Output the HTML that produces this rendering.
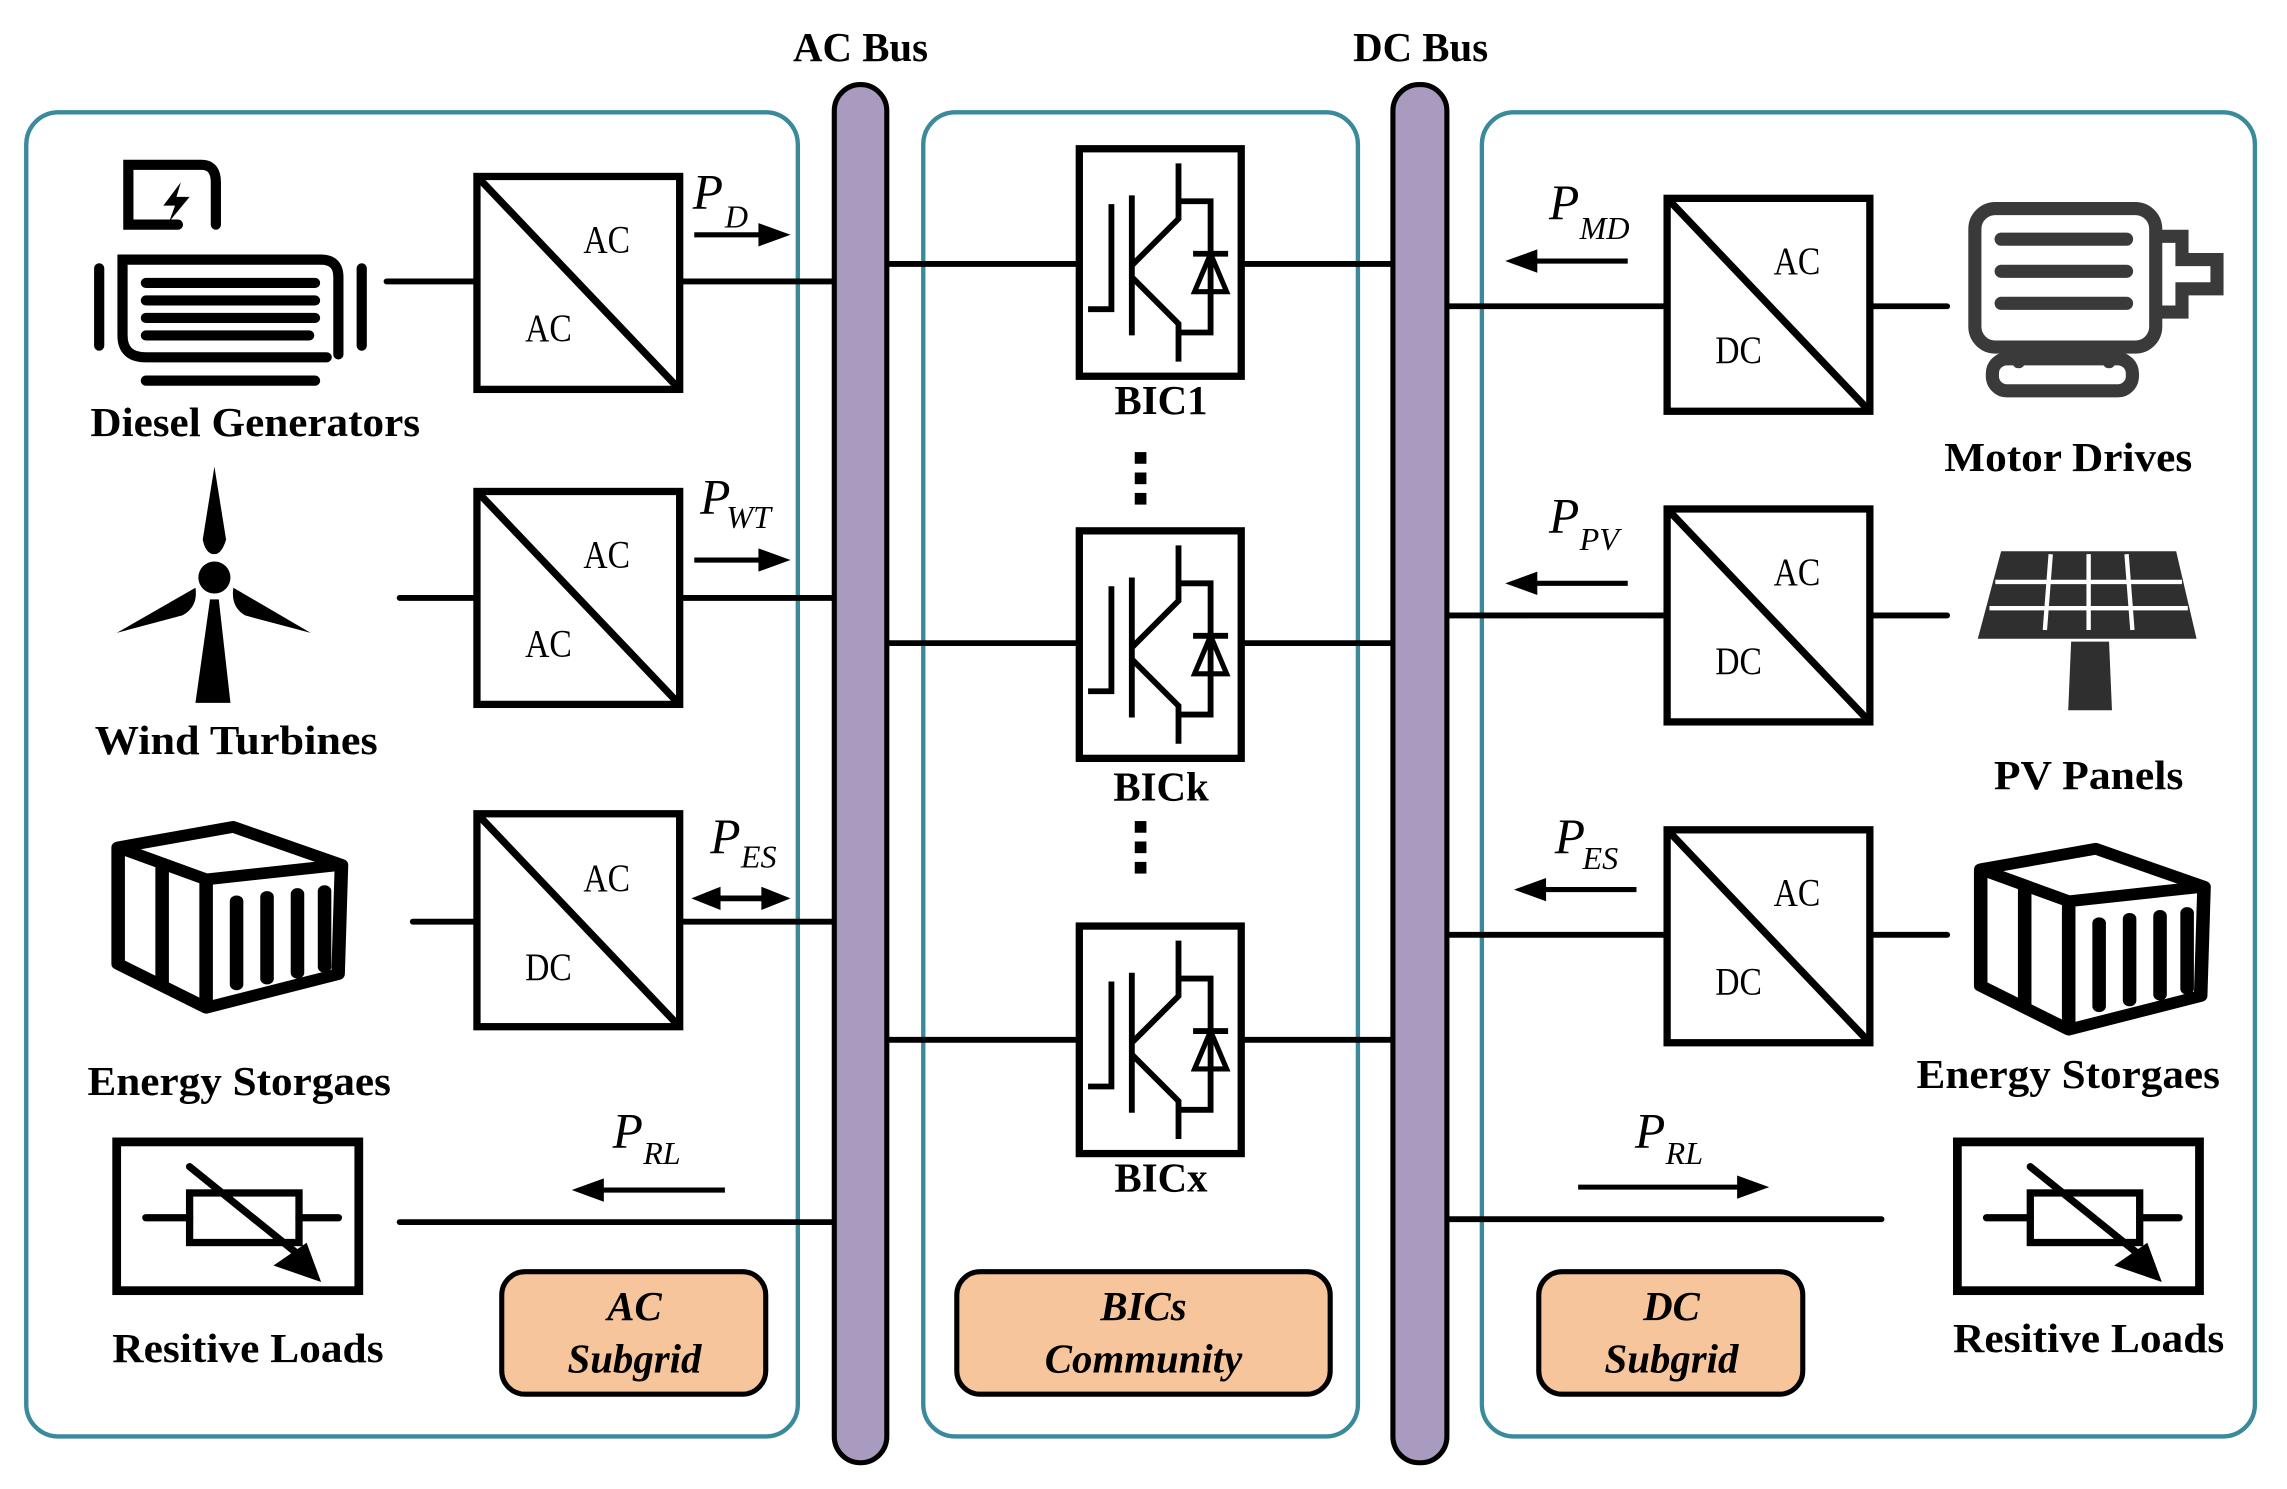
<!DOCTYPE html>
<html><head><meta charset="utf-8"><style>
html,body{margin:0;padding:0;background:#fff;}
svg{display:block;}
text{font-family:"Liberation Serif","Times New Roman","DejaVu Serif",serif;}
.lbl{font-weight:bold;font-size:28px;}
.cv{font-size:27px;}
.p{font-style:italic;font-size:34px;}
.s{font-style:italic;font-size:22px;}
</style></head><body>
<svg width="2287" height="1489" viewBox="0 0 1568 1021" preserveAspectRatio="none" xmlns="http://www.w3.org/2000/svg" font-family="Liberation Serif, Times New Roman, DejaVu Serif, serif">
<defs>
<g id="conv"><rect x="0" y="0" width="139" height="146" fill="#fff" stroke="#000" stroke-width="5"/><line x1="2" y1="2" x2="137" y2="144" stroke="#000" stroke-width="5"/></g>
<g id="bic" fill="none" stroke="#000" stroke-width="4">
<rect x="0" y="0" width="111" height="156" stroke-width="5"/>
<polyline points="6,110 22,110 22,38"/>
<line x1="36" y1="32" x2="36" y2="128"/>
<polyline points="36,80 68,48 68,10"/>
<polyline points="36,88 68,120 68,146"/>
<polyline points="68,36 90,36 90,126 68,126"/>
<polygon points="79,98 101,98 90,72" stroke-width="3.5"/>
<line x1="78" y1="72" x2="102" y2="72"/>
</g>
<g id="arrR"><line x1="0" y1="0" x2="48" y2="0" stroke="#000" stroke-width="3.5"/><polygon points="44,-8 66,0 44,8" fill="#000"/></g>
<g id="store" fill="none" stroke="#000" stroke-width="8" stroke-linejoin="round">
<polygon points="0,18 68,4 132,30 130,105 52,128 0,98"/>
<polyline points="0,18 52,40 132,30"/>
<line x1="52" y1="40" x2="52" y2="128"/>
<line x1="26" y1="30" x2="26" y2="112"/>
<line x1="70" y1="55" x2="70" y2="112" stroke-linecap="round"/>
<line x1="88" y1="52" x2="88" y2="108" stroke-linecap="round"/>
<line x1="106" y1="50" x2="106" y2="104" stroke-linecap="round"/>
<line x1="122" y1="48" x2="122" y2="100" stroke-linecap="round"/>
</g>
<g id="load" fill="none" stroke="#000" stroke-width="5">
<rect x="0" y="0" width="166" height="102" stroke-width="6"/>
<rect x="50" y="35" width="75" height="34"/>
<line x1="20" y1="52" x2="50" y2="52" stroke-linecap="round"/>
<line x1="125" y1="52" x2="152" y2="52" stroke-linecap="round"/>
<line x1="50" y1="17" x2="128" y2="80" stroke-linecap="round"/>
<polygon points="136,92 113,84 129,73" fill="#000"/>
</g>
</defs>

<g fill="none" stroke="#3a8a9c" stroke-width="3">
<rect x="18" y="77" width="529" height="908" rx="22"/>
<rect x="633" y="77" width="298" height="908" rx="22"/>
<rect x="1016" y="77" width="530" height="908" rx="22"/>
</g>

<g stroke="#000" stroke-width="4" stroke-linecap="round">
<line x1="265" y1="193" x2="327" y2="193"/><line x1="466" y1="193" x2="572" y2="193"/>
<line x1="274" y1="410" x2="327" y2="410"/><line x1="466" y1="410" x2="572" y2="410"/>
<line x1="283" y1="632" x2="327" y2="632"/><line x1="466" y1="632" x2="572" y2="632"/>
<line x1="274" y1="838" x2="572" y2="838"/>
<line x1="608" y1="181" x2="740" y2="181"/><line x1="851" y1="181" x2="955" y2="181"/>
<line x1="608" y1="441" x2="740" y2="441"/><line x1="851" y1="441" x2="955" y2="441"/>
<line x1="608" y1="713" x2="740" y2="713"/><line x1="851" y1="713" x2="955" y2="713"/>
<line x1="992" y1="210" x2="1143" y2="210"/><line x1="1282" y1="210" x2="1335" y2="210"/>
<line x1="992" y1="422" x2="1143" y2="422"/><line x1="1282" y1="422" x2="1335" y2="422"/>
<line x1="992" y1="641" x2="1143" y2="641"/><line x1="1282" y1="641" x2="1335" y2="641"/>
<line x1="992" y1="836" x2="1290" y2="836"/>
</g>

<rect x="572" y="58" width="36" height="945" rx="18" fill="#a99bc0" stroke="#000" stroke-width="3.5"/>
<rect x="955" y="58" width="37" height="945" rx="18" fill="#a99bc0" stroke="#000" stroke-width="3.5"/>
<text x="590" y="42" text-anchor="middle" class="lbl">AC Bus</text>
<text x="974" y="42" text-anchor="middle" class="lbl">DC Bus</text>

<use href="#conv" x="327" y="121"/><use href="#conv" x="327" y="337"/><use href="#conv" x="327" y="558"/>
<use href="#conv" x="1143" y="136"/><use href="#conv" x="1143" y="349"/><use href="#conv" x="1143" y="569"/>
<g class="cv" text-anchor="middle">
<text x="416" y="173" textLength="32" lengthAdjust="spacingAndGlyphs">AC</text><text x="376" y="234" textLength="32" lengthAdjust="spacingAndGlyphs">AC</text>
<text x="416" y="389" textLength="32" lengthAdjust="spacingAndGlyphs">AC</text><text x="376" y="450" textLength="32" lengthAdjust="spacingAndGlyphs">AC</text>
<text x="416" y="611" textLength="32" lengthAdjust="spacingAndGlyphs">AC</text><text x="376" y="672" textLength="32" lengthAdjust="spacingAndGlyphs">DC</text>
<text x="1232" y="188" textLength="32" lengthAdjust="spacingAndGlyphs">AC</text><text x="1192" y="249" textLength="32" lengthAdjust="spacingAndGlyphs">DC</text>
<text x="1232" y="401" textLength="32" lengthAdjust="spacingAndGlyphs">AC</text><text x="1192" y="462" textLength="32" lengthAdjust="spacingAndGlyphs">DC</text>
<text x="1232" y="621" textLength="32" lengthAdjust="spacingAndGlyphs">AC</text><text x="1192" y="682" textLength="32" lengthAdjust="spacingAndGlyphs">DC</text>
</g>

<use href="#bic" x="740" y="102"/><use href="#bic" x="740" y="364"/><use href="#bic" x="740" y="635"/>
<g class="lbl" text-anchor="middle" font-size="27">
<text x="796" y="284">BIC1</text><text x="796" y="549">BICk</text><text x="796" y="817">BICx</text>
</g>
<g fill="#000">
<rect x="778" y="310" width="8" height="8"/><rect x="778" y="324" width="8" height="8"/><rect x="778" y="338" width="8" height="8"/>
<rect x="778" y="563" width="8" height="8"/><rect x="778" y="577" width="8" height="8"/><rect x="778" y="591" width="8" height="8"/>
</g>

<use href="#arrR" x="476" y="161"/>
<use href="#arrR" x="476" y="384"/>
<g><line x1="486" y1="616" x2="530" y2="616" stroke="#000" stroke-width="4"/><polygon points="474,616 494,608 494,624" fill="#000"/><polygon points="542,616 522,608 522,624" fill="#000"/></g>
<g><line x1="410" y1="816" x2="497" y2="816" stroke="#000" stroke-width="3.5"/><polygon points="392,816 414,808 414,824" fill="#000"/></g>
<g><line x1="1050" y1="179" x2="1116" y2="179" stroke="#000" stroke-width="3.5"/><polygon points="1032,179 1054,171 1054,187" fill="#000"/></g>
<g><line x1="1050" y1="400" x2="1116" y2="400" stroke="#000" stroke-width="3.5"/><polygon points="1032,400 1054,392 1054,408" fill="#000"/></g>
<g><line x1="1056" y1="610" x2="1122" y2="610" stroke="#000" stroke-width="3.5"/><polygon points="1038,610 1060,602 1060,618" fill="#000"/></g>
<g><line x1="1082" y1="814" x2="1195" y2="814" stroke="#000" stroke-width="3.5"/><polygon points="1191,806 1213,814 1191,822" fill="#000"/></g>

<g>
<text x="475" y="143" class="p">P</text><text x="497" y="156" class="s">D</text>
<text x="480" y="352" class="p">P</text><text x="498" y="362" class="s">WT</text>
<text x="487" y="585" class="p">P</text><text x="508" y="595" class="s">ES</text>
<text x="420" y="787" class="p">P</text><text x="441" y="798" class="s">RL</text>
<text x="1062" y="150" class="p">P</text><text x="1083" y="164" class="s">MD</text>
<text x="1062" y="365" class="p">P</text><text x="1083" y="377" class="s">PV</text>
<text x="1066" y="585" class="p">P</text><text x="1085" y="596" class="s">ES</text>
<text x="1121" y="787" class="p">P</text><text x="1142" y="798" class="s">RL</text>
</g>

<g fill="#f7c59b" stroke="#000" stroke-width="3.5">
<rect x="344" y="872" width="181" height="84" rx="16"/>
<rect x="656" y="872" width="256" height="84" rx="16"/>
<rect x="1055" y="872" width="181" height="84" rx="16"/>
</g>
<g font-weight="bold" font-style="italic" font-size="28" text-anchor="middle">
<text x="435" y="905">AC</text><text x="435" y="941">Subgrid</text>
<text x="784" y="905">BICs</text><text x="784" y="941">Community</text>
<text x="1146" y="905">DC</text><text x="1146" y="941">Subgrid</text>
</g>

<g fill="none" stroke="#000" stroke-width="7" stroke-linecap="round">
<path d="M122,154 L88,154 L88,113 L138,113 Q148,113 148,125 L148,154"/>
<line x1="68" y1="184" x2="68" y2="237"/>
<line x1="248" y1="184" x2="248" y2="237"/>
<path d="M232,243 L232,190 Q232,178 220,178 L84,178 L84,230 Q84,245 100,245 L224,245" />
<line x1="100" y1="194" x2="216" y2="194"/>
<line x1="100" y1="206" x2="216" y2="206"/>
<line x1="100" y1="218" x2="216" y2="218"/>
<line x1="100" y1="230" x2="212" y2="230"/>
<line x1="100" y1="261" x2="216" y2="261"/>
</g>
<polygon points="124,125 112,141 120,141 116,152 130,135 121,135" fill="#000"/>

<g fill="#000">
<path d="M147,320 L155,370 Q152,380 147,380 Q141,380 139,370 Z"/>
<circle cx="147" cy="396" r="11"/>
<path d="M134,403 L80,434 L125,422 Q136,416 134,403 Z"/>
<path d="M160,403 L213,434 L168,422 Q158,416 160,403 Z"/>
<polygon points="144,411 150,411 158,482 134,482"/>
</g>

<g fill="none" stroke="#3a3a3a" stroke-width="9" stroke-linecap="round">
<rect x="1354" y="143" width="124" height="95" rx="14"/>
<rect x="1366" y="246" width="96" height="22" rx="10"/>
<line x1="1384" y1="238" x2="1384" y2="248"/><line x1="1446" y1="238" x2="1446" y2="248"/>
<line x1="1372" y1="164" x2="1458" y2="164"/><line x1="1372" y1="186" x2="1458" y2="186"/><line x1="1372" y1="208" x2="1458" y2="208"/>
<path d="M1482,162 L1496,162 L1496,178 L1520,178 L1520,198 L1496,198 L1496,214 L1482,214"/>
</g>

<g>
<polygon points="1372,378 1492,378 1506,438 1356,438" fill="#2f2f2f"/>
<polygon points="1420,440 1446,440 1448,487 1418,487" fill="#2f2f2f"/>
<g stroke="#fff" stroke-width="3">
<line x1="1368" y1="399" x2="1496" y2="399"/><line x1="1364" y1="417" x2="1500" y2="417"/>
<line x1="1406" y1="380" x2="1402" y2="432"/><line x1="1432" y1="380" x2="1432" y2="432"/><line x1="1458" y1="380" x2="1462" y2="432"/>
</g>
</g>

<use href="#store" transform="translate(81,563) scale(1.16,1)"/>
<use href="#store" transform="translate(1358,578) scale(1.16,1)"/>

<use href="#load" x="80" y="783"/>
<use href="#load" x="1342" y="783"/>

<g class="lbl" text-anchor="middle">
<text x="175" y="299" textLength="226" lengthAdjust="spacingAndGlyphs">Diesel Generators</text>
<text x="162" y="517" textLength="194" lengthAdjust="spacingAndGlyphs">Wind Turbines</text>
<text x="164" y="751" textLength="208" lengthAdjust="spacingAndGlyphs">Energy Storgaes</text>
<text x="170" y="934" textLength="186" lengthAdjust="spacingAndGlyphs">Resitive Loads</text>
<text x="1418" y="323" textLength="170" lengthAdjust="spacingAndGlyphs">Motor Drives</text>
<text x="1432" y="541" textLength="130" lengthAdjust="spacingAndGlyphs">PV Panels</text>
<text x="1418" y="746" textLength="208" lengthAdjust="spacingAndGlyphs">Energy Storgaes</text>
<text x="1432" y="927" textLength="186" lengthAdjust="spacingAndGlyphs">Resitive Loads</text>
</g>
</svg>
</body></html>
